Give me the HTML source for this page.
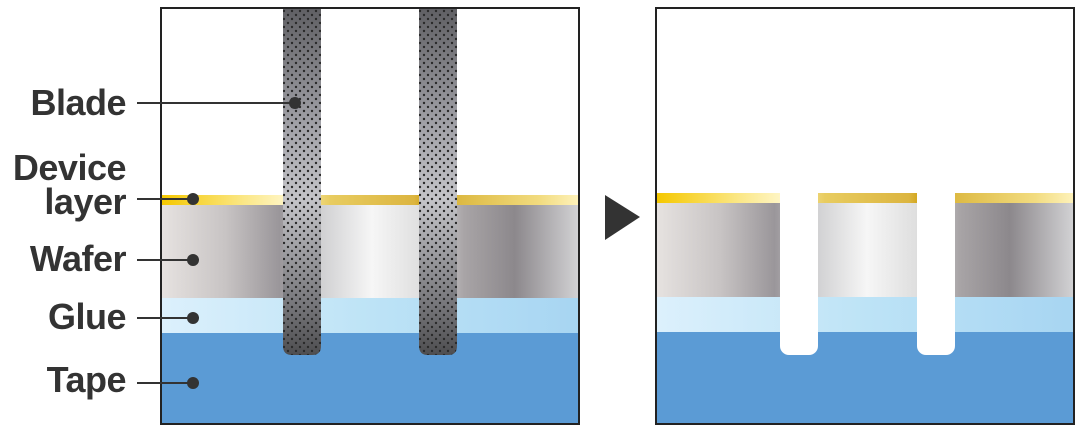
<!DOCTYPE html>
<html><head><meta charset="utf-8"><style>
body{margin:0;width:1080px;height:431px;background:#fff;position:relative;overflow:hidden;font-family:"Liberation Sans",sans-serif}
.a{position:absolute}
.frame{position:absolute;border:2px solid #222;box-sizing:border-box;overflow:hidden;background:#fff}
.lbl{position:absolute;right:954px;font-weight:bold;font-size:36px;color:#333;line-height:36px;text-align:right;letter-spacing:-0.5px}
.ln{position:absolute;height:2px;background:#333}
.dot{position:absolute;width:12px;height:12px;border-radius:50%;background:#333}
.gold{background:linear-gradient(90deg,#f5c800 0%,#fbe88a 20%,#fff6c8 30%,#e8cc60 40%,#dcb540 60%,#c99a00 64%,#dcb840 70%,#f2dc80 90%,#fff4c0 100%)}
.wafer{background:linear-gradient(90deg,#e6e2e0 0%,#c8c4c4 15%,#9a969a 28%,#cacacc 36%,#f6f6f6 50%,#dcdcdc 63%,#a8a4a6 72%,#8c888c 84%,#d6d6d8 100%)}
.glue{background:linear-gradient(90deg,#dcf0fc 0%,#bde3f6 50%,#a7d5f2 100%)}
.tape{background:#5b9bd5}
.cut{position:absolute;width:38px;background:#fff;border-radius:0 0 9px 9px}
</style></head><body>
<div class="frame" style="left:160px;top:7px;width:420px;height:418px">
  <div class="a gold" style="left:0;top:186px;width:420px;height:10px"></div>
  <div class="a wafer" style="left:0;top:196px;width:420px;height:93px"></div>
  <div class="a glue" style="left:0;top:289px;width:420px;height:35px"></div>
  <div class="a tape" style="left:0;top:324px;width:420px;height:94px"></div>
  <svg class="a" style="left:0;top:0" width="420" height="350">
    <defs>
      <linearGradient id="bg" x1="0" y1="0" x2="0" y2="1">
        <stop offset="0" stop-color="#606064"/><stop offset="0.35" stop-color="#a4a4aa"/>
        <stop offset="0.55" stop-color="#c4c4c8"/><stop offset="0.85" stop-color="#78787c"/>
        <stop offset="1" stop-color="#4e4e50"/>
      </linearGradient>
      <pattern id="dp" width="8" height="8" patternUnits="userSpaceOnUse">
        <circle cx="2" cy="2" r="1.2" fill="#2a2a2a"/><circle cx="6" cy="6" r="1.2" fill="#2a2a2a"/>
      </pattern>
    </defs>
    <path d="M121,0 H159 V337 Q159,346 150,346 H130 Q121,346 121,337 Z" fill="url(#bg)"/>
    <path d="M121,0 H159 V337 Q159,346 150,346 H130 Q121,346 121,337 Z" fill="url(#dp)"/>
    <path d="M257,0 H295 V337 Q295,346 286,346 H266 Q257,346 257,337 Z" fill="url(#bg)"/>
    <path d="M257,0 H295 V337 Q295,346 286,346 H266 Q257,346 257,337 Z" fill="url(#dp)"/>
  </svg>
</div>
<div class="frame" style="left:655px;top:7px;width:420px;height:418px">
  <div class="a gold" style="left:0;top:184px;width:420px;height:10px"></div>
  <div class="a wafer" style="left:0;top:194px;width:420px;height:94px"></div>
  <div class="a glue" style="left:0;top:288px;width:420px;height:35px"></div>
  <div class="a tape" style="left:0;top:323px;width:420px;height:95px"></div>
  <div class="cut" style="left:123px;top:0;height:346px"></div>
  <div class="cut" style="left:260px;top:0;height:346px"></div>
</div>
<svg class="a" style="left:600px;top:190px" width="45" height="55"><polygon points="5,5 40,27 5,50" fill="#333"/></svg>
<div class="lbl" style="top:85px">Blade</div>
<div class="lbl" style="top:151px;line-height:34px">Device<br>layer</div>
<div class="lbl" style="top:241px">Wafer</div>
<div class="lbl" style="top:299px">Glue</div>
<div class="lbl" style="top:362px">Tape</div>
<div class="ln" style="left:137px;top:102px;width:158px"></div><div class="dot" style="left:289px;top:97px"></div>
<div class="ln" style="left:137px;top:198px;width:56px"></div><div class="dot" style="left:187px;top:193px"></div>
<div class="ln" style="left:137px;top:259px;width:56px"></div><div class="dot" style="left:187px;top:254px"></div>
<div class="ln" style="left:137px;top:317px;width:56px"></div><div class="dot" style="left:187px;top:312px"></div>
<div class="ln" style="left:137px;top:382px;width:56px"></div><div class="dot" style="left:187px;top:377px"></div>
</body></html>
